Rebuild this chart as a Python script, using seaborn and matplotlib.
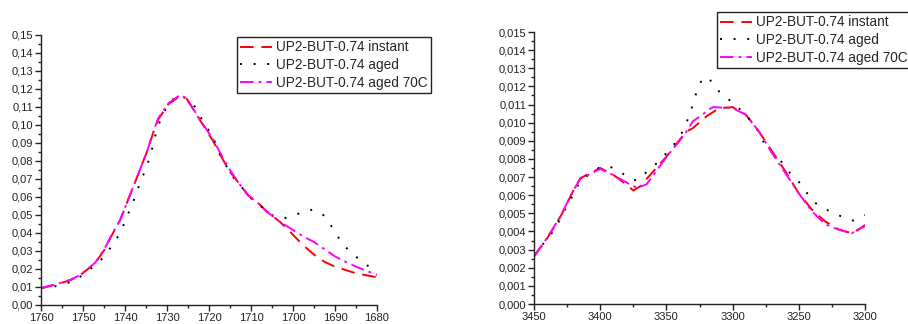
import matplotlib
matplotlib.use("Agg")
import matplotlib.pyplot as plt
import seaborn as sns
import pandas as pd
from matplotlib.ticker import MultipleLocator, FuncFormatter

# ---------------- data (left panel, 1760-1680 cm-1) ----------------
left_instant_x = [1760, 1756.3, 1753, 1750.7, 1747.1, 1744.8, 1743.2, 1741.2, 1739, 1736.8, 1734.8,
                  1733.3, 1732.1, 1729.7, 1727.3, 1725.3, 1722.1, 1719, 1717, 1715, 1713,
                  1710.7, 1708, 1706.3, 1703, 1700, 1697.5, 1695, 1692.5, 1690, 1685, 1680]
left_instant_y = [0.0092, 0.0115, 0.0138, 0.0165, 0.0232, 0.031, 0.0385, 0.047, 0.060, 0.073, 0.085,
                  0.0955, 0.103, 0.1115, 0.1155, 0.1145, 0.1025, 0.091, 0.082, 0.074, 0.068,
                  0.061, 0.056, 0.052, 0.046, 0.039, 0.033, 0.028, 0.024, 0.0213, 0.0176, 0.0154]

left_aged_x = [1760, 1755.9, 1752, 1748.7, 1746.4, 1744.9, 1743.3, 1741.8, 1740.6, 1739.6, 1738.6,
               1737.6, 1736.7, 1735.8, 1734.8, 1733.9, 1733, 1731.8, 1730.8, 1729.7, 1727.3,
               1725, 1723.3, 1722.2, 1720.6, 1719.2, 1717.3, 1714.6, 1709.5, 1707.1, 1705.1,
               1702.7, 1700.1, 1697.7, 1695.2, 1692.8, 1691.2, 1689.8, 1688.3, 1686.5, 1684.3,
               1682.5, 1680]
left_aged_y = [0.0095, 0.0106, 0.0135, 0.019, 0.0235, 0.027, 0.0324, 0.0376, 0.043, 0.0487, 0.0543,
               0.060, 0.066, 0.0713, 0.0772, 0.0833, 0.0925, 0.1013, 0.1065, 0.112, 0.1167,
               0.1143, 0.110, 0.105, 0.099, 0.094, 0.083, 0.072, 0.058, 0.054, 0.050,
               0.048, 0.049, 0.052, 0.053, 0.050, 0.045, 0.040, 0.034, 0.030, 0.0254,
               0.022, 0.0204]

left_70c_x = [1760, 1756.3, 1753, 1750.7, 1747.1, 1744.8, 1743.2, 1741.2, 1739, 1736.8, 1734.8,
              1733.3, 1732.1, 1729.7, 1726.9, 1725.3, 1722.1, 1719, 1717, 1715, 1713,
              1710.7, 1708, 1706.3, 1703, 1700, 1697.5, 1695, 1692.5, 1690, 1687.5, 1685,
              1682.5, 1680]
left_70c_y = [0.0094, 0.0117, 0.014, 0.0167, 0.0235, 0.0315, 0.039, 0.047, 0.060, 0.073, 0.085,
              0.096, 0.1037, 0.112, 0.1167, 0.1148, 0.1028, 0.092, 0.083, 0.075, 0.068,
              0.061, 0.056, 0.052, 0.046, 0.0417, 0.038, 0.035, 0.031, 0.027, 0.024, 0.0213,
              0.019, 0.0167]

# ---------------- data (right panel, 3450-3200 cm-1) ----------------
right_instant_x = [3450, 3440, 3430, 3420, 3415, 3400, 3390, 3380, 3375, 3370, 3360, 3350, 3340,
                   3335, 3330, 3320, 3310, 3300, 3290, 3280, 3270, 3260, 3250, 3240, 3230, 3220,
                   3210, 3205, 3200]
right_instant_y = [0.00261, 0.00363, 0.00482, 0.0063, 0.00694, 0.0075, 0.00712, 0.00657, 0.00626,
                   0.00648, 0.0073, 0.00813, 0.00906, 0.0095, 0.0097, 0.01034, 0.0108, 0.01086,
                   0.01044, 0.0095, 0.0084, 0.0073, 0.0061, 0.0052, 0.00455, 0.00412, 0.0039,
                   0.0041, 0.00436]

right_aged_x = [3450, 3434.4, 3426.8, 3422.8, 3415, 3407.4, 3401.1, 3394, 3386.5, 3379.7, 3372.4,
                3364.6, 3358.3, 3352.5, 3346.9, 3341.6, 3337.9, 3334.3, 3331.3, 3326.8, 3323,
                3318, 3314.2, 3308.4, 3301.6, 3295.3, 3290.2, 3283.4, 3276.4, 3269.6, 3262.5,
                3254.4, 3247.9, 3243.6, 3238.1, 3231.5, 3223.9, 3216.6, 3208.8, 3200]
right_aged_y = [0.0027, 0.0041, 0.0052, 0.0057, 0.0068, 0.0072, 0.0075, 0.0076, 0.0074, 0.0070,
                0.0068, 0.0073, 0.0077, 0.0081, 0.0086, 0.0090, 0.0095, 0.0101, 0.0107, 0.0118,
                0.0124, 0.0125, 0.0120, 0.0116, 0.0112, 0.0108, 0.0104, 0.0099, 0.0089, 0.0083,
                0.0078, 0.0070, 0.0066, 0.0061, 0.0056, 0.0053, 0.0050, 0.0048, 0.0046, 0.0049]

right_70c_x = [3450, 3440, 3430, 3420, 3415, 3400, 3390, 3380, 3372, 3365, 3360, 3350, 3340,
               3335, 3330, 3320, 3315, 3300, 3290, 3280, 3270, 3260, 3250, 3240, 3230, 3220,
               3210, 3205, 3200]
right_70c_y = [0.00265, 0.00365, 0.00485, 0.0063, 0.0069, 0.00745, 0.0071, 0.0067, 0.0064,
               0.0066, 0.0071, 0.0081, 0.0090, 0.0095, 0.01007, 0.0106, 0.01086, 0.0108,
               0.01044, 0.0095, 0.0083, 0.0072, 0.0061, 0.0051, 0.0044, 0.0041, 0.0039,
               0.0041, 0.0043]

labels = ["UP2-BUT-0.74 instant", "UP2-BUT-0.74 aged", "UP2-BUT-0.74 aged 70C"]
colors = ["#ff0000", "#000000", "#ff00ff"]

sns.set_style("ticks")
plt.rcParams["font.family"] = ["Liberation Sans", "DejaVu Sans"]

fig = plt.figure(figsize=(9.08, 3.24), dpi=100)
ax1 = fig.add_axes([41 / 908, 19 / 324, 336 / 908, 270 / 324])
ax2 = fig.add_axes([534 / 908, 20 / 324, 331 / 908, 272 / 324])

styles = [(0, (7, 4)), (0, (1, 6)), (0, (7, 2.5, 1.5, 2.5))]


def draw(ax, series):
    for (x, y), lab, c, ls in zip(series, labels, colors, styles):
        df = pd.DataFrame({"x": x, "y": y})
        sns.lineplot(data=df, x="x", y="y", ax=ax, color=c, lw=1.4, linestyle=ls,
                     label=lab, sort=False, estimator=None)
    ax.set_xlabel("")
    ax.set_ylabel("")
    for s in ["top", "right"]:
        ax.spines[s].set_visible(False)
    for s in ["left", "bottom"]:
        ax.spines[s].set_color("#222222")
        ax.spines[s].set_linewidth(1.0)
    ax.tick_params(which="major", direction="out", length=4, width=1, labelsize=8,
                   colors="#222222", pad=1.5)
    ax.tick_params(which="minor", direction="out", length=2, width=1, colors="#222222")


draw(ax1, [(left_instant_x, left_instant_y), (left_aged_x, left_aged_y), (left_70c_x, left_70c_y)])
draw(ax2, [(right_instant_x, right_instant_y), (right_aged_x, right_aged_y), (right_70c_x, right_70c_y)])

ax1.set_xlim(1760, 1680)
ax1.set_ylim(0, 0.15)
ax1.xaxis.set_major_locator(MultipleLocator(10))
ax1.xaxis.set_minor_locator(MultipleLocator(5))
ax1.yaxis.set_major_locator(MultipleLocator(0.01))
ax1.yaxis.set_minor_locator(MultipleLocator(0.005))
ax1.yaxis.set_major_formatter(FuncFormatter(lambda v, p: f"{v:.2f}".replace(".", ",")))
ax1.xaxis.set_major_formatter(FuncFormatter(lambda v, p: f"{v:.0f}"))

ax2.set_xlim(3450, 3200)
ax2.set_ylim(0, 0.015)
ax2.xaxis.set_major_locator(MultipleLocator(50))
ax2.xaxis.set_minor_locator(MultipleLocator(25))
ax2.yaxis.set_major_locator(MultipleLocator(0.001))
ax2.yaxis.set_minor_locator(MultipleLocator(0.0005))
ax2.yaxis.set_major_formatter(FuncFormatter(lambda v, p: f"{v:.3f}".replace(".", ",")))
ax2.xaxis.set_major_formatter(FuncFormatter(lambda v, p: f"{v:.0f}"))

leg_kw = dict(loc="upper left", frameon=True, fancybox=False, shadow=False, fontsize=9.8,
              handlelength=2.3, handletextpad=0.3, labelspacing=0.28, borderpad=0.25,
              borderaxespad=0, edgecolor="#222222", framealpha=1)
l1 = ax1.legend(bbox_to_anchor=(237 / 908, 1 - 37 / 324), bbox_transform=fig.transFigure, **leg_kw)
l2 = ax2.legend(bbox_to_anchor=(717 / 908, 1 - 12 / 324), bbox_transform=fig.transFigure, **leg_kw)
for l in (l1, l2):
    l.get_frame().set_linewidth(1.0)

fig.savefig("out.png", dpi=100)
